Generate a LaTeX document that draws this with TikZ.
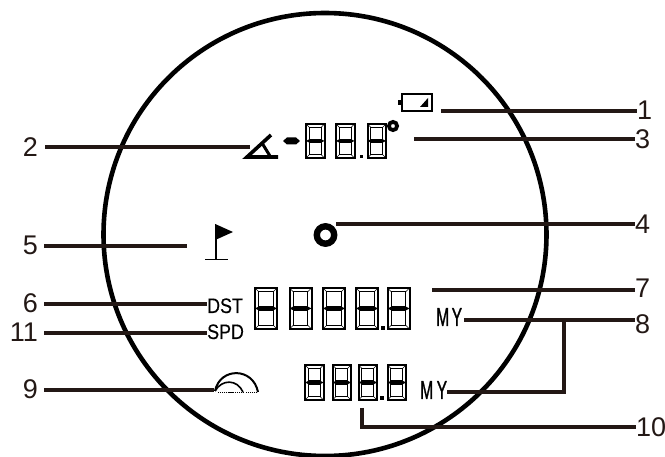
\documentclass[tikz,border=0pt]{standalone}
\usepackage{fontspec}
\setmainfont{Liberation Sans}
\newfontfamily\narrowfont[FakeStretch=0.85,FakeBold=0.25]{Liberation Sans}
\newfontfamily\myfont[FakeStretch=0.6,FakeBold=0.9]{Liberation Sans}
\newcommand{\segdigit}[5]{% x y w h t
  \begin{scope}[shift={(#1,#2)},line width=1.1pt,line join=miter]
    \pgfmathsetmacro{\dw}{#3}\pgfmathsetmacro{\dh}{#4}\pgfmathsetmacro{\dt}{#5}
    \pgfmathsetmacro{\dm}{\dh/2}
    \draw[line width=2pt] (0,0) rectangle (\dw,\dh);
    \fill (0,\dm) -- (\dt,\dm-\dt/2) -- (\dw-\dt,\dm-\dt/2) -- (\dw,\dm) -- (\dw-\dt,\dm+\dt/2) -- (\dt,\dm+\dt/2) -- cycle;
    \draw (\dt,\dt) rectangle (\dw-\dt,\dm-\dt/2);
    \draw (\dt,\dm+\dt/2) rectangle (\dw-\dt,\dh-\dt);
    \draw[line width=0.7pt] (0,0)--(\dt,\dt) (\dw,0)--(\dw-\dt,\dt) (0,\dh)--(\dt,\dh-\dt) (\dw,\dh)--(\dw-\dt,\dh-\dt);
  \end{scope}}
\tikzset{
  lead/.style={line width=3.2pt,draw={rgb,255:red,35;green,24;blue,21}},
  numlabel/.style={font=\fontsize{27}{27}\selectfont,text={rgb,255:red,35;green,24;blue,21},inner sep=0pt},
  dsttext/.style={font=\narrowfont\fontsize{21}{21}\selectfont,inner sep=0pt,anchor=base west},
  mytext/.style={font=\myfont\fontsize{26}{26}\selectfont,inner sep=0pt,anchor=base west}
}
\begin{document}
\begin{tikzpicture}[x=1pt,y=-1pt]
\useasboundingbox (0,0) rectangle (665,457);
\fill[white] (0,0) rectangle (665,457);
% labels
\node[numlabel,anchor=base west] (n1) at (637,120) {1};
\node[numlabel,anchor=base west] (n3) at (635,149) {3};
\node[numlabel,anchor=base west] (n4) at (635,234) {4};
\node[numlabel,anchor=base west] (n7) at (635,298) {7};
\node[numlabel,anchor=base west] (n8) at (635,334) {8};
\node[numlabel,anchor=base west] (n10) at (636,437) {10};
\node[numlabel,anchor=base east] (n2) at (38,157) {2};
\node[numlabel,anchor=base east] (n5) at (38,255) {5};
\node[numlabel,anchor=base east] (n6) at (38,313) {6};
\node[numlabel,anchor=base east] (n11) at (38,342) {11};
\node[numlabel,anchor=base east] (n9) at (38,399) {9};
% ring
\draw[line width=4.6pt] (325,234.5) circle (221.5);
% digits top
\segdigit{306}{124}{18.5}{34}{3.2}
\segdigit{336}{124}{18.5}{34}{3.2}
\segdigit{367.5}{124}{18.5}{34}{3.2}
\fill (359.5,155) rectangle (363,158.5);
% big digits
\foreach \xx in {255,289.5,323,356,387.5}{\segdigit{\xx}{288}{22}{41}{3.6}}
\fill (380.5,326) rectangle (385,330);
% small digits
\foreach \xx in {305,332.5,358.5,387.5}{\segdigit{\xx}{365}{18.5}{35}{3.2}}
\fill (380,396) rectangle (384,400);
% battery
\draw[line width=2pt] (402,94) rectangle (432,111);
\fill (398,100) rectangle (402,105);
\fill (420,107) -- (428,107) -- (428,98) -- cycle;
% degree
\draw[line width=3.8pt] (393,126) circle (4.1);
% dash
\fill (283,141) -- (287,137.5) -- (296,137.5) -- (300,141) -- (296,144.5) -- (287,144.5) -- cycle;
% angle symbol
\coordinate (ang) at (250,147);
\draw[line width=3.6pt,line join=miter] (271,135) -- (247,157) -- (278,157);
\draw[line width=3pt] (262,143) -- (270,156);
% ball
\coordinate (ballc) at (325.5,235);
\draw[line width=6.4pt] (ballc) circle (8.7);
\coordinate (ballp) at (336,224);
% flag
\draw[line width=1.8pt] (216,226) -- (216,259.5);
\draw[line width=1.5pt] (205,259.5) -- (228,259.5);
\fill (215.2,224) -- (233,232) -- (215.2,240) -- cycle;
\coordinate (flag) at (187,246);
% DST SPD
\node[dsttext] (dst) at (207,313) {DST};
\node[dsttext] (spd) at (207,339) {SPD};
% MY
\node[mytext] (my1) at (436,326) {M\kern2.5pt Y};
\node[mytext] (my2) at (420,399) {M\kern3.5pt Y};
% trajectory
\coordinate (traj) at (214,390);
\draw[line width=2pt] (215,391) .. controls (220,367) and (253,367) .. (258,392);
\draw[line width=1.6pt] (215,391) .. controls (222,379) and (237,379) .. (243,392);
\draw[line width=1pt,dash pattern=on 1.2pt off 0.7pt] (218,393) -- (243,393);
\draw[line width=1pt,dash pattern=on 1.2pt off 0.7pt] (246,393) -- (256,393);
% anchors for leaders
\coordinate (c1) at (441,111);
\coordinate (c3) at (414,139);
\coordinate (c7) at (432,290);
\coordinate (c8) at (464,320);
\coordinate (b8) at (564,320);
\coordinate (b8b) at (564,392);
\coordinate (c10) at (362,408);
\coordinate (b10) at (362,427);
\coordinate (s2) at (45,147);
\coordinate (s5) at (44,246);
\coordinate (s6) at (44,304);
\coordinate (s11) at (44,333);
\coordinate (s9) at (44,390);
% leaders
\draw[lead] (c1) -- (c1 -| n1.west);
\draw[lead] (c3) -- (c3 -| n3.west);
\draw[lead] (ballp) -- (ballp -| n4.west);
\draw[lead] (c7) -- (c7 -| n7.west);
\draw[lead] (c8) -- (c8 -| n8.west);
\draw[lead,line join=miter] (b8) -- (b8b) -- (my2.east |- b8b);
\draw[lead,line join=miter] (c10) -- (b10) -- (b10 -| n10.west);
\draw[lead] (s2) -- (ang);
\draw[lead] (s5) -- (flag);
\draw[lead] (s6) -- (s6 -| dst.west);
\draw[lead] (s11) -- (s11 -| spd.west);
\draw[lead] (s9) -- (traj);
\end{tikzpicture}
\end{document}
